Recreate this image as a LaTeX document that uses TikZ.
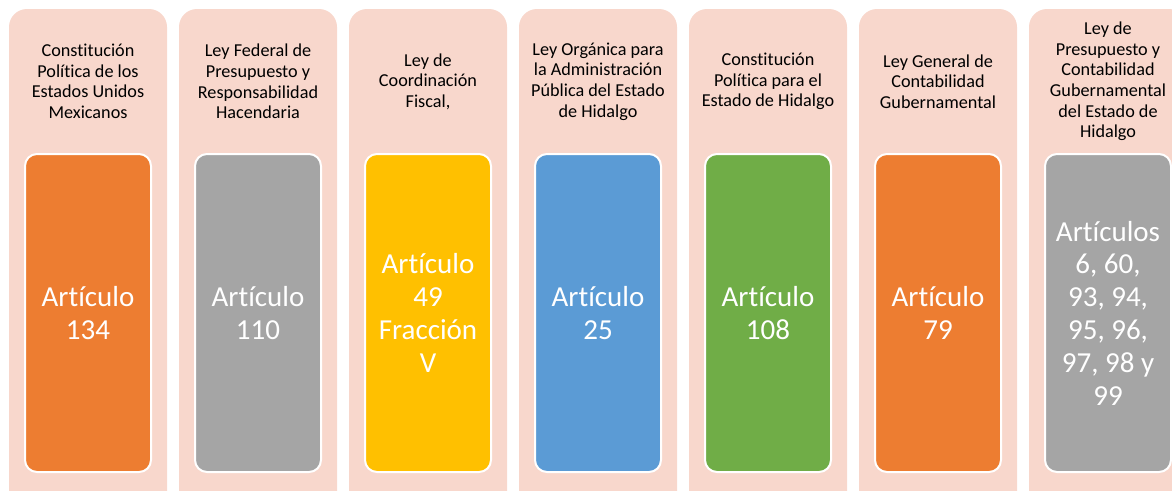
\documentclass[tikz,border=0pt]{standalone}
\usepackage{fontspec}
\setmainfont{Carlito}[Ligatures=NoCommon]
\usetikzlibrary{positioning}
\definecolor{pinkbg}{HTML}{F8D7CC}
\definecolor{artorange}{HTML}{ED7D31}
\definecolor{artgray}{HTML}{A5A5A5}
\definecolor{artyellow}{HTML}{FFC000}
\definecolor{artblue}{HTML}{5B9BD5}
\definecolor{artgreen}{HTML}{70AD47}

\begin{document}
\begin{tikzpicture}[x=1pt,y=-1pt,
    outer/.style={fill=pinkbg, rounded corners=18pt, minimum width=158pt,
        minimum height=500pt, inner sep=0pt},
    title/.style={align=center, text=black, inner sep=0pt,
        font=\fontsize{18.2}{20.6}\selectfont},
    artbox/.style={draw=white, line width=2pt, rounded corners=12pt,
        minimum width=126pt, minimum height=318pt, inner sep=0pt,
        align=center, text=white, font=\fontsize{29}{32.8}\selectfont}]
    \useasboundingbox (0,0) rectangle (1172,490);
    \clip (0,0) rectangle (1172,490);

    % Outer columns
    \node[outer] (col1) at (88,259) {};
    \node[outer] (col2) at (258,259) {};
    \node[outer] (col3) at (428,259) {};
    \node[outer] (col4) at (598,259) {};
    \node[outer] (col5) at (768,259) {};
    \node[outer] (col6) at (938,259) {};
    \node[outer] (col7) at (1108,259) {};

    % Laws
    \node[title] (ley1) at (88,81.5) {Constitución\\Política de los\\Estados Unidos\\Mexicanos};
    \node[title] (ley2) at (258,81.5) {Ley Federal de\\Presupuesto y\\Responsabilidad\\Hacendaria};
    \node[title] (ley3) at (428,81.5) {Ley de\\Coordinación\\Fiscal,};
    \node[title] (ley4) at (598,81.5) {Ley Orgánica para\\la Administración\\Pública del Estado\\de Hidalgo};
    \node[title] (ley5) at (768,81.5) {Constitución\\Política para el\\Estado de Hidalgo};
    \node[title] (ley6) at (938,81.5) {Ley General de\\Contabilidad\\Gubernamental};
    \node[title] (ley7) at (1108,81.5) {Ley de\\Presupuesto y\\Contabilidad\\Gubernamental\\del Estado de\\Hidalgo};

    % Articles
    \node[artbox, fill=artorange] (art1) at (88,313) {Artículo\\134};
    \node[artbox, fill=artgray] (art2) at (258,313) {Artículo\\110};
    \node[artbox, fill=artyellow] (art3) at (428,313) {Artículo\\49\\Fracción\\V};
    \node[artbox, fill=artblue] (art4) at (598,313) {Artículo\\25};
    \node[artbox, fill=artgreen] (art5) at (768,313) {Artículo\\108};
    \node[artbox, fill=artorange] (art6) at (938,313) {Artículo\\79};
    \node[artbox, fill=artgray] (art7) at (1108,313) {Artículos\\6, 60,\\93, 94,\\95, 96,\\97, 98 y\\99};
\end{tikzpicture}
\end{document}
